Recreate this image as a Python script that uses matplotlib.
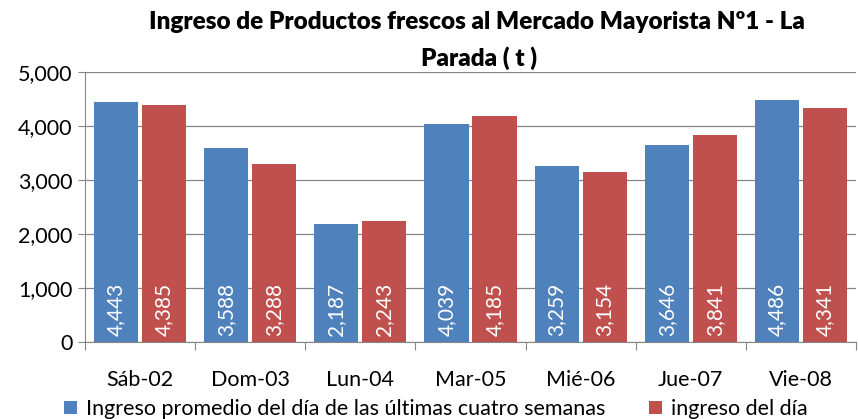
import numpy as np
import matplotlib
matplotlib.use('Agg')
import matplotlib.pyplot as plt
from matplotlib.ticker import FuncFormatter

plt.rcParams['font.family'] = ['Lato', 'DejaVu Sans']

dias = ['Sáb-02', 'Dom-03', 'Lun-04', 'Mar-05', 'Mié-06', 'Jue-07', 'Vie-08']
promedio = [4443, 3588, 2187, 4039, 3259, 3646, 4486]
ingreso = [4385, 3288, 2243, 4185, 3154, 3841, 4341]

azul = '#4F81BD'
rojo = '#C0504D'

fig = plt.figure(figsize=(8.58, 4.19), dpi=100)
ax = fig.add_axes([85/858, 1-342/419, 771/858, 270/419])

x = np.arange(len(dias))
w = 0.4
gap = 0.036
b1 = ax.bar(x - w/2 - gap/2, promedio, w, color=azul, zorder=2,
            label='Ingreso promedio del día de las últimas cuatro semanas')
b2 = ax.bar(x + w/2 + gap/2, ingreso, w, color=rojo, zorder=2,
            label='ingreso del día')

for bars, vals in ((b1, promedio), (b2, ingreso)):
    for r, v in zip(bars, vals):
        ax.text(r.get_x() + r.get_width()/2, 120, '{:,}'.format(v),
                rotation=90, ha='center', va='bottom', color='white',
                fontsize=15, zorder=3)

ax.set_xlim(-0.5, len(dias) - 0.5)
ax.set_ylim(0, 5000)
ax.set_yticks(range(0, 5001, 1000))
ax.yaxis.set_major_formatter(FuncFormatter(lambda v, p: '{:,}'.format(int(v))))
ax.grid(axis='y', color='#868686', linewidth=0.9, zorder=0)
ax.set_axisbelow(True)

ax.set_xticks(np.arange(len(dias) + 1) - 0.5)
ax.set_xticklabels([])
ax.set_xticks(x, minor=True)
ax.set_xticklabels(dias, minor=True, fontsize=15.5)
ax.tick_params(axis='x', which='major', length=6, color='#868686', direction='out')
ax.tick_params(axis='x', which='minor', length=0, pad=20)
ax.tick_params(axis='y', length=5, color='#868686', labelsize=15.5, pad=4)

for s in ['top', 'right']:
    ax.spines[s].set_visible(False)
for s in ['left', 'bottom']:
    ax.spines[s].set_color('#868686')

fig.text(477/858, 1-22/419, 'Ingreso de Productos frescos al Mercado Mayorista Nº1 - La',
         ha='center', va='center', fontsize=17.5, fontweight='heavy')
fig.text(479/858, 1-58/419, 'Parada ( t )',
         ha='center', va='center', fontsize=17.5, fontweight='heavy')

fig.legend(loc='center', bbox_to_anchor=(436/858, 1-409/419), ncol=2, frameon=False,
           fontsize=15.5, handlelength=0.6, handleheight=0.6, columnspacing=2.05,
           handletextpad=0.42, borderpad=0)

fig.savefig('out.png', dpi=100)
